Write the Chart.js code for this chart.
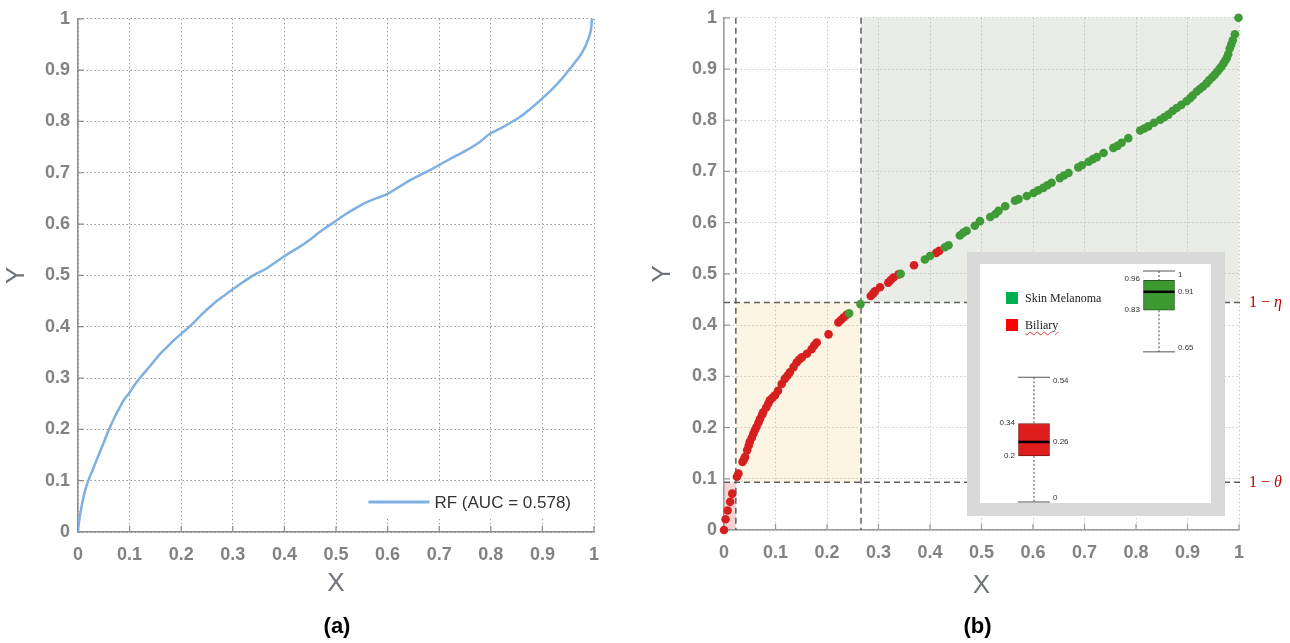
<!DOCTYPE html>
<html>
<head>
<meta charset="utf-8">
<script src="https://cdn.jsdelivr.net/npm/chart.js@4.4.1/dist/chart.umd.min.js"></script>
<style>
  html, body { margin: 0; padding: 0; background: #fff; }
  #page { position: relative; width: 1290px; height: 643px; overflow: hidden; font-family: 'Liberation Sans', Arial, sans-serif; }
  canvas { position: absolute; }
  #rocA { left: 0; top: 0; }
  #rocB { left: 645px; top: 0; }
  #insetFrame { position: absolute; left: 967px; top: 252px; width: 258px; height: 264px; box-sizing: border-box;
    background: #fff; border: solid #d9d9d9; border-width: 12px 14px 13px 13px; }
  #inset { left: 967px; top: 252px; }
  .lg { position: absolute; left: 1006px; font-family: 'Liberation Serif', 'DejaVu Serif', serif; font-size: 12px; color: #222; line-height: 12px; }
  .lg i { position: absolute; left: 0; top: 0; width: 12px; height: 12px; }
  .lg span { position: absolute; left: 19px; top: 0; white-space: nowrap; }
  .wavy { text-decoration: underline wavy #e03a3a; text-decoration-thickness: 1px; text-underline-offset: 2px; }
</style>
</head>
<body>
<div id="page">
  <canvas id="rocA" width="645" height="643"></canvas>
  <canvas id="rocB" width="645" height="643"></canvas>
  <div id="insetFrame"></div>
  <canvas id="inset" width="258" height="264"></canvas>
  <div class="lg" style="top:292px"><i style="background:#00b050"></i><span>Skin Melanoma</span></div>
  <div class="lg" style="top:319px"><i style="background:#ff0000"></i><span class="wavy">Biliary</span></div>
</div>
<script>
// ---------- shared axis ticks ----------
const axisTicks = [0, 0.1, 0.2, 0.3, 0.4, 0.5, 0.6, 0.7, 0.8, 0.9, 1];

// ---------- panel (a): RF curve ----------
const rfLabel = 'RF (AUC = 0.578)';
const rfX = [0, 0.002, 0.006, 0.01, 0.015, 0.02, 0.028, 0.036, 0.042, 0.049, 0.056, 0.062, 0.072, 0.08, 0.088,
  0.1, 0.11, 0.12, 0.13, 0.14, 0.15, 0.159, 0.17, 0.184, 0.2, 0.217, 0.23, 0.243, 0.256, 0.269, 0.285, 0.3,
  0.32, 0.34, 0.366, 0.385, 0.404, 0.43, 0.45, 0.469, 0.485, 0.498, 0.52, 0.54, 0.56, 0.58, 0.598, 0.62, 0.643,
  0.662, 0.682, 0.705, 0.727, 0.755, 0.78, 0.798, 0.818, 0.837, 0.857, 0.876, 0.89, 0.902, 0.918, 0.934, 0.945,
  0.953, 0.963, 0.973, 0.98, 0.986, 0.992, 0.995, 0.996, 1];
const rfY = [0, 0.02, 0.045, 0.065, 0.085, 0.1, 0.12, 0.14, 0.155, 0.172, 0.19, 0.204, 0.226, 0.241, 0.256,
  0.272, 0.287, 0.3, 0.312, 0.324, 0.336, 0.347, 0.358, 0.372, 0.386, 0.401, 0.414, 0.427, 0.439, 0.45, 0.462, 0.473,
  0.487, 0.5, 0.514, 0.527, 0.54, 0.556, 0.57, 0.585, 0.596, 0.605, 0.62, 0.632, 0.643, 0.651, 0.658, 0.671, 0.685,
  0.695, 0.705, 0.718, 0.73, 0.745, 0.761, 0.776, 0.786, 0.797, 0.809, 0.824, 0.836, 0.847, 0.862, 0.879, 0.892,
  0.902, 0.915, 0.928, 0.94, 0.953, 0.97, 0.985, 0.999, 1];

// ---------- panel (b): per-sample points ----------
const biliaryX = [0, 0.003, 0.007, 0.012, 0.016, 0.025, 0.028, 0.036, 0.039, 0.041, 0.045, 0.048, 0.05, 0.054,
  0.057, 0.06, 0.063, 0.067, 0.07, 0.074, 0.076, 0.082, 0.086, 0.089, 0.094, 0.099, 0.105, 0.112, 0.118, 0.123,
  0.128, 0.135, 0.141, 0.146, 0.151, 0.161, 0.17, 0.175, 0.18, 0.203, 0.222, 0.227, 0.232, 0.238,
  0.285, 0.29, 0.293, 0.303, 0.319, 0.324, 0.329, 0.339, 0.369, 0.412, 0.418];
const biliaryY = [0, 0.021, 0.038, 0.055, 0.071, 0.104, 0.11, 0.133, 0.138, 0.143, 0.156, 0.165, 0.172, 0.18,
  0.188, 0.195, 0.201, 0.21, 0.217, 0.225, 0.23, 0.239, 0.247, 0.253, 0.258, 0.263, 0.272, 0.285, 0.295, 0.301,
  0.308, 0.318, 0.327, 0.333, 0.337, 0.344, 0.353, 0.36, 0.366, 0.382, 0.405, 0.41, 0.415, 0.42,
  0.457, 0.462, 0.466, 0.474, 0.483, 0.488, 0.493, 0.499, 0.517, 0.541, 0.545];
const melanomaX = [0.243, 0.265, 0.343, 0.39, 0.4, 0.429, 0.436, 0.458, 0.464, 0.471, 0.487, 0.497, 0.517, 0.527,
  0.533, 0.546, 0.565, 0.572, 0.588, 0.601, 0.61, 0.62, 0.628, 0.636, 0.652, 0.66, 0.669, 0.688, 0.695, 0.708,
  0.716, 0.724, 0.737, 0.756, 0.764, 0.772, 0.785, 0.808, 0.816, 0.824, 0.835, 0.847, 0.855, 0.863, 0.871, 0.879,
  0.888, 0.898, 0.905, 0.91, 0.918, 0.924, 0.93, 0.937, 0.942, 0.948, 0.953, 0.958, 0.962, 0.966, 0.97, 0.973,
  0.976, 0.979, 0.982, 0.985, 0.988, 0.992, 0.999];
const melanomaY = [0.423, 0.441, 0.5, 0.528, 0.535, 0.552, 0.556, 0.575, 0.58, 0.584, 0.594, 0.603, 0.611, 0.617,
  0.623, 0.632, 0.643, 0.646, 0.652, 0.658, 0.663, 0.668, 0.673, 0.678, 0.687, 0.692, 0.697, 0.708, 0.712, 0.719,
  0.724, 0.728, 0.736, 0.746, 0.75, 0.756, 0.765, 0.78, 0.784, 0.788, 0.795, 0.801, 0.806, 0.811, 0.818, 0.824,
  0.83, 0.837, 0.843, 0.848, 0.856, 0.861, 0.866, 0.872, 0.878, 0.884, 0.889, 0.895, 0.9, 0.905, 0.911, 0.916,
  0.921, 0.929, 0.94, 0.948, 0.956, 0.968, 1.0];

// cut-offs
const cutX = [0.023, 0.266];
const cutY = [0.093, 0.444];
const cutYSymbol = ['θ', 'η'];

// shaded zones [x0, x1, y0, y1]
const zoneX0 = [0.266, 0.023, 0];
const zoneX1 = [1, 0.266, 0.023];
const zoneY0 = [0.444, 0.093, 0];
const zoneY1 = [1, 0.444, 0.093];
const zoneColors = ['#e9ece7', '#fcf5e4', '#f8d3d5'];

// ---------- inset box plots ----------
const boxGroups = ['Biliary', 'Skin Melanoma'];
const boxMin = [0, 0.65];
const boxQ1 = [0.2, 0.83];
const boxMedian = [0.26, 0.91];
const boxQ3 = [0.34, 0.96];
const boxMax = [0.54, 1];

const pts = (xs, ys) => xs.map((x, i) => ({ x, y: ys[i] }));

function makeScales(o) {
  const tickFont = { family: "'Liberation Sans', Arial, sans-serif", size: 18, weight: 'bold' };
  const titleFont = { family: "'Liberation Sans', Arial, sans-serif", size: 26 };
  return {
    x: {
      type: 'linear', min: 0, max: 1,
      afterBuildTicks: s => { s.ticks = axisTicks.map(v => ({ value: v })); },
      afterFit: s => { s.height = o.xh; },
      grid: { color: o.grid, drawTicks: false, lineWidth: 1 },
      border: { color: o.axis, width: 1.5, dash: [1.5, 2.5] },
      ticks: { color: '#828282', font: tickFont, padding: 12, autoSkip: false, maxRotation: 0, callback: v => String(v) },
      title: { display: true, text: 'X', color: '#6e747c', font: titleFont, padding: { top: 0, bottom: o.xtp } }
    },
    y: {
      type: 'linear', min: 0, max: 1,
      afterBuildTicks: s => { s.ticks = axisTicks.map(v => ({ value: v })); },
      afterFit: s => { s.width = o.yw; },
      grid: { color: o.grid, drawTicks: false, lineWidth: 1 },
      border: { color: o.axis, width: 1.5, dash: [1.5, 2.5] },
      ticks: { color: '#828282', font: tickFont, padding: o.ypad, autoSkip: false, callback: v => String(v) },
      title: { display: true, text: 'Y', color: '#6e747c', font: titleFont, padding: { top: o.ytp, bottom: 0 } }
    }
  };
}

// small inward tick marks on both axes
const innerTicks = {
  id: 'innerTicks',
  beforeDatasetsDraw(chart, args, opts) {
    const { ctx, chartArea: a, scales: { x, y } } = chart;
    ctx.save();
    ctx.strokeStyle = opts.color; ctx.lineWidth = 1.2;
    ctx.beginPath();
    axisTicks.forEach(v => {
      const px = x.getPixelForValue(v), py = y.getPixelForValue(v);
      ctx.moveTo(px, a.bottom); ctx.lineTo(px, a.bottom - 6);
      ctx.moveTo(a.left, py); ctx.lineTo(a.left + 6, py);
    });
    ctx.stroke();
    ctx.restore();
  }
};

// "(a)" / "(b)" captions
const caption = {
  id: 'caption',
  afterDraw(chart, args, opts) {
    const { ctx, chartArea: a } = chart;
    ctx.save();
    ctx.font = "bold 22px 'Liberation Sans', Arial, sans-serif";
    ctx.fillStyle = '#000'; ctx.textAlign = 'center'; ctx.textBaseline = 'middle';
    ctx.fillText(opts.text, (a.left + a.right) / 2 + opts.dx, chart.height - 16);
    ctx.restore();
  }
};

// legend drawn inside the plot, lower right (panel a)
const lineLegend = {
  id: 'lineLegend',
  afterDatasetsDraw(chart) {
    const { ctx, chartArea: a } = chart;
    const ds = chart.data.datasets[0];
    ctx.save();
    ctx.font = "17px 'Liberation Sans', Arial, sans-serif";
    const tw = ctx.measureText(ds.label).width;
    const right = a.right - 23, cy = a.bottom - 30;
    const tx = right - tw, lx = tx - 66;
    ctx.fillStyle = '#fff';
    ctx.fillRect(lx - 6, cy - 19, a.right - 4 - (lx - 6), 36);
    ctx.strokeStyle = ds.borderColor; ctx.lineWidth = 3;
    ctx.beginPath(); ctx.moveTo(lx, cy); ctx.lineTo(lx + 61, cy); ctx.stroke();
    ctx.fillStyle = '#333'; ctx.textBaseline = 'middle';
    ctx.fillText(ds.label, tx, cy + 1);
    ctx.restore();
  }
};

// shaded zones under the grid (panel b)
const zones = {
  id: 'zones',
  beforeDraw(chart) {
    const { ctx, scales: { x, y } } = chart;
    ctx.save();
    zoneX0.forEach((x0, i) => {
      const l = x.getPixelForValue(x0), r = x.getPixelForValue(zoneX1[i]);
      const t = y.getPixelForValue(zoneY1[i]), b = y.getPixelForValue(zoneY0[i]);
      ctx.fillStyle = zoneColors[i];
      ctx.fillRect(l, t, r - l, b - t);
    });
    ctx.restore();
  }
};

// dashed cut-off lines with 1-θ / 1-η labels (panel b)
const cutLines = {
  id: 'cutLines',
  beforeDatasetsDraw(chart) {
    const { ctx, chartArea: a, scales: { x, y } } = chart;
    ctx.save();
    ctx.strokeStyle = '#5f5f5f'; ctx.lineWidth = 1.5; ctx.setLineDash([6, 4]);
    ctx.beginPath();
    cutX.forEach(v => { const px = x.getPixelForValue(v); ctx.moveTo(px, a.top); ctx.lineTo(px, a.bottom); });
    cutY.forEach(v => { const py = y.getPixelForValue(v); ctx.moveTo(a.left, py); ctx.lineTo(a.right + 3, py); });
    ctx.stroke();
    ctx.setLineDash([]);
    ctx.fillStyle = '#c00000'; ctx.textBaseline = 'middle';
    cutY.forEach((v, i) => {
      const py = y.getPixelForValue(v);
      let tx = a.right + 10;
      ctx.font = "16px 'Liberation Serif', 'DejaVu Serif', serif";
      const head = '1 \u2212 ';
      ctx.fillText(head, tx, py);
      tx += ctx.measureText(head).width;
      ctx.font = "italic 16px 'Liberation Serif', 'DejaVu Serif', serif";
      ctx.fillText(cutYSymbol[i], tx, py);
    });
    ctx.restore();
  }
};

// whiskers, caps, medians and value labels (inset)
const boxWhiskers = {
  id: 'boxWhiskers',
  afterDatasetsDraw(chart) {
    const { ctx, scales: { x, y } } = chart;
    const half = 16;
    ctx.save();
    boxGroups.forEach((g, i) => {
      const cx = x.getPixelForValue(i);
      const yMin = y.getPixelForValue(boxMin[i]), yMax = y.getPixelForValue(boxMax[i]);
      const yQ1 = y.getPixelForValue(boxQ1[i]), yQ3 = y.getPixelForValue(boxQ3[i]);
      const yMed = y.getPixelForValue(boxMedian[i]);
      ctx.strokeStyle = '#444'; ctx.lineWidth = 1; ctx.setLineDash([2, 2]);
      ctx.beginPath();
      ctx.moveTo(cx, yMax); ctx.lineTo(cx, yQ3);
      ctx.moveTo(cx, yQ1); ctx.lineTo(cx, yMin);
      ctx.stroke();
      ctx.setLineDash([]);
      ctx.strokeStyle = '#555';
      ctx.beginPath();
      ctx.moveTo(cx - half, yMax); ctx.lineTo(cx + half, yMax);
      ctx.moveTo(cx - half, yMin); ctx.lineTo(cx + half, yMin);
      ctx.stroke();
      ctx.strokeStyle = '#000'; ctx.lineWidth = 2.5;
      ctx.beginPath(); ctx.moveTo(cx - 15.5, yMed); ctx.lineTo(cx + 15.5, yMed); ctx.stroke();

      ctx.fillStyle = '#333'; ctx.font = "8px 'Liberation Sans', Arial, sans-serif"; ctx.textBaseline = 'middle';
      ctx.textAlign = 'left';
      ctx.fillText(String(boxMax[i]), cx + half + 3, yMax + 4);
      ctx.fillText(String(boxMedian[i]), cx + half + 3, yMed);
      ctx.fillText(String(boxMin[i]), cx + half + 3, yMin - 4);
      ctx.textAlign = 'right';
      ctx.fillText(String(boxQ3[i]), cx - half - 3, yQ3 - 1);
      ctx.fillText(String(boxQ1[i]), cx - half - 3, yQ1);
    });
    ctx.restore();
  }
};

// ---------- panel (a) ----------
new Chart(document.getElementById('rocA'), {
  type: 'line',
  data: {
    datasets: [{
      label: rfLabel, data: pts(rfX, rfY),
      borderColor: '#7eb0e2', borderWidth: 2.5, pointRadius: 0, cubicInterpolationMode: 'monotone', fill: false
    }]
  },
  options: {
    responsive: false, animation: false,
    layout: { padding: { left: 0, top: 16, right: 51, bottom: 0 } },
    plugins: { legend: { display: false }, tooltip: { enabled: false },
      innerTicks: { color: '#8c8c8c' }, caption: { text: '(a)', dx: 1 } },
    scales: makeScales({ xh: 111, yw: 78, grid: '#9a9a9a', axis: '#8c8c8c', ypad: 8, xtp: 44, ytp: 1.5 })
  },
  plugins: [innerTicks, lineLegend, caption]
});

// ---------- panel (b) ----------
new Chart(document.getElementById('rocB'), {
  type: 'scatter',
  data: {
    datasets: [
      { label: 'Skin Melanoma', data: pts(melanomaX, melanomaY), backgroundColor: '#3f9b36', pointRadius: 4.3, borderWidth: 0, clip: false },
      { label: 'Biliary', data: pts(biliaryX, biliaryY), backgroundColor: '#d61f1f', pointRadius: 4.3, borderWidth: 0, clip: false }
    ]
  },
  options: {
    responsive: false, animation: false,
    layout: { padding: { left: 0, top: 16, right: 51, bottom: 0 } },
    plugins: { legend: { display: false }, tooltip: { enabled: false },
      innerTicks: { color: '#999' }, caption: { text: '(b)', dx: -4 } },
    scales: makeScales({ xh: 113, yw: 79, grid: '#c4c4c4', axis: '#9a9a9a', ypad: 7, xtp: 42, ytp: 2.5 })
  },
  plugins: [zones, cutLines, innerTicks, caption]
});

// ---------- inset ----------
new Chart(document.getElementById('inset'), {
  type: 'bar',
  data: {
    labels: boxGroups,
    datasets: [{
      data: boxGroups.map((g, i) => [boxQ1[i], boxQ3[i]]),
      backgroundColor: ['#e01d1d', '#3d9a31'],
      borderColor: ['#7a1212', '#22571b'],
      borderWidth: 1, borderSkipped: false, barThickness: 31
    }]
  },
  options: {
    responsive: false, animation: false,
    layout: { padding: { left: 4.5, right: 3.5, top: 19, bottom: 14 } },
    plugins: { legend: { display: false }, tooltip: { enabled: false } },
    scales: { x: { display: false }, y: { display: false, min: 0, max: 1 } }
  },
  plugins: [boxWhiskers]
});
</script>
</body>
</html>
